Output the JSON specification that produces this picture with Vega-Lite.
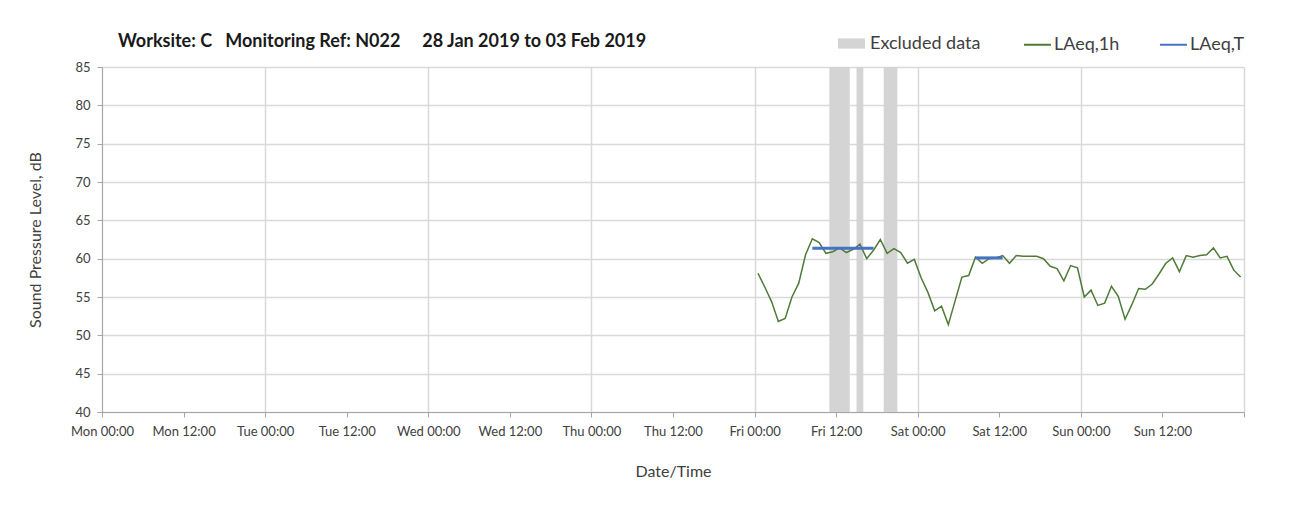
{
  "autosize": {"type": "none"},
  "padding": {"left": 102, "top": 67, "right": 65, "bottom": 99},
  "width": 1142,
  "height": 345,
  "background": "white",
  "config": {
    "view": {"stroke": null},
    "axis": {
      "labelFont": "Lato", "labelFontSize": 13, "labelColor": "#404040",
      "titleFont": "Lato", "titleFontSize": 16, "titleFontWeight": "normal", "titleColor": "#404040",
      "domainColor": "#a6a6a6", "tickColor": "#a6a6a6", "tickSize": 5,
      "gridColor": "#d9d9d9", "gridWidth": 1.5
    },
    "legend": {"labelFont": "Lato", "labelFontSize": 18, "labelColor": "#404040"}
  },
  "title": {
    "text": "Worksite: C\u00a0\u00a0\u00a0Monitoring Ref: N022\u00a0\u00a0\u00a0\u00a0\u00a028 Jan 2019 to 03 Feb 2019",
    "anchor": "start", "frame": "group", "dx": 16, "offset": 0, "baseline": "bottom", "dy": 39,
    "font": "Lato", "fontSize": 18, "fontWeight": "bold", "color": "#1a1a1a"
  },
  "layer": [
    {
      "data": {"values": [
        {"start": "2019-02-01T11:00:00Z", "end": "2019-02-01T14:00:00Z", "label": "Excluded data"},
        {"start": "2019-02-01T15:00:00Z", "end": "2019-02-01T16:00:00Z", "label": "Excluded data"},
        {"start": "2019-02-01T19:00:00Z", "end": "2019-02-01T21:00:00Z", "label": "Excluded data"}
      ]},
      "mark": {"type": "rect"},
      "encoding": {
        "x": {
          "field": "start", "type": "temporal",
          "scale": {"type": "utc", "domain": [1548633600000, 1549238400000]},
          "axis": {
            "title": "Date/Time", "titlePadding": 25,
            "values": [1548633600000, 1548676800000, 1548720000000, 1548763200000, 1548806400000, 1548849600000, 1548892800000, 1548936000000, 1548979200000, 1549022400000, 1549065600000, 1549108800000, 1549152000000, 1549195200000, 1549238400000],
            "tickCount": 40,
            "format": "%a %H:%M",
            "labelExpr": "datum.value >= 1549238400000 ? '' : datum.label",
            "labelPadding": 8, "labelAngle": 0, "labelOverlap": false, "labelFlush": false,
            "grid": true,
            "gridOpacity": {"condition": {"test": "utchours(datum.value) == 0", "value": 1}, "value": 0}
          }
        },
        "x2": {"field": "end"},
        "fill": {
          "field": "label", "type": "nominal",
          "scale": {"domain": ["Excluded data"], "range": ["#d4d4d4"]},
          "legend": {
            "orient": "none", "legendX": 736, "legendY": -37, "title": null,
            "symbolType": "M-1,-0.38H1V0.38H-1Z", "symbolSize": 729, "symbolStrokeWidth": 0,
            "labelOffset": 5
          }
        }
      }
    },
    {
      "data": {"values": [
        {"t": "2019-02-01T00:30:00Z", "db": 58.1, "series": "LAeq,1h"},
        {"t": "2019-02-01T01:30:00Z", "db": 56.3, "series": "LAeq,1h"},
        {"t": "2019-02-01T02:30:00Z", "db": 54.4, "series": "LAeq,1h"},
        {"t": "2019-02-01T03:30:00Z", "db": 51.8, "series": "LAeq,1h"},
        {"t": "2019-02-01T04:30:00Z", "db": 52.2, "series": "LAeq,1h"},
        {"t": "2019-02-01T05:30:00Z", "db": 55.0, "series": "LAeq,1h"},
        {"t": "2019-02-01T06:30:00Z", "db": 56.8, "series": "LAeq,1h"},
        {"t": "2019-02-01T07:30:00Z", "db": 60.5, "series": "LAeq,1h"},
        {"t": "2019-02-01T08:30:00Z", "db": 62.6, "series": "LAeq,1h"},
        {"t": "2019-02-01T09:30:00Z", "db": 62.1, "series": "LAeq,1h"},
        {"t": "2019-02-01T10:30:00Z", "db": 60.7, "series": "LAeq,1h"},
        {"t": "2019-02-01T11:30:00Z", "db": 60.9, "series": "LAeq,1h"},
        {"t": "2019-02-01T12:30:00Z", "db": 61.4, "series": "LAeq,1h"},
        {"t": "2019-02-01T13:30:00Z", "db": 60.8, "series": "LAeq,1h"},
        {"t": "2019-02-01T14:30:00Z", "db": 61.2, "series": "LAeq,1h"},
        {"t": "2019-02-01T15:30:00Z", "db": 61.9, "series": "LAeq,1h"},
        {"t": "2019-02-01T16:30:00Z", "db": 60.0, "series": "LAeq,1h"},
        {"t": "2019-02-01T17:30:00Z", "db": 61.1, "series": "LAeq,1h"},
        {"t": "2019-02-01T18:30:00Z", "db": 62.5, "series": "LAeq,1h"},
        {"t": "2019-02-01T19:30:00Z", "db": 60.7, "series": "LAeq,1h"},
        {"t": "2019-02-01T20:30:00Z", "db": 61.3, "series": "LAeq,1h"},
        {"t": "2019-02-01T21:30:00Z", "db": 60.8, "series": "LAeq,1h"},
        {"t": "2019-02-01T22:30:00Z", "db": 59.4, "series": "LAeq,1h"},
        {"t": "2019-02-01T23:30:00Z", "db": 59.9, "series": "LAeq,1h"},
        {"t": "2019-02-02T00:30:00Z", "db": 57.5, "series": "LAeq,1h"},
        {"t": "2019-02-02T01:30:00Z", "db": 55.6, "series": "LAeq,1h"},
        {"t": "2019-02-02T02:30:00Z", "db": 53.2, "series": "LAeq,1h"},
        {"t": "2019-02-02T03:30:00Z", "db": 53.8, "series": "LAeq,1h"},
        {"t": "2019-02-02T04:30:00Z", "db": 51.4, "series": "LAeq,1h"},
        {"t": "2019-02-02T05:30:00Z", "db": 54.5, "series": "LAeq,1h"},
        {"t": "2019-02-02T06:30:00Z", "db": 57.6, "series": "LAeq,1h"},
        {"t": "2019-02-02T07:30:00Z", "db": 57.8, "series": "LAeq,1h"},
        {"t": "2019-02-02T08:30:00Z", "db": 60.2, "series": "LAeq,1h"},
        {"t": "2019-02-02T09:30:00Z", "db": 59.4, "series": "LAeq,1h"},
        {"t": "2019-02-02T10:30:00Z", "db": 60.0, "series": "LAeq,1h"},
        {"t": "2019-02-02T11:30:00Z", "db": 60.1, "series": "LAeq,1h"},
        {"t": "2019-02-02T12:30:00Z", "db": 60.4, "series": "LAeq,1h"},
        {"t": "2019-02-02T13:30:00Z", "db": 59.4, "series": "LAeq,1h"},
        {"t": "2019-02-02T14:30:00Z", "db": 60.4, "series": "LAeq,1h"},
        {"t": "2019-02-02T15:30:00Z", "db": 60.3, "series": "LAeq,1h"},
        {"t": "2019-02-02T16:30:00Z", "db": 60.3, "series": "LAeq,1h"},
        {"t": "2019-02-02T17:30:00Z", "db": 60.3, "series": "LAeq,1h"},
        {"t": "2019-02-02T18:30:00Z", "db": 60.0, "series": "LAeq,1h"},
        {"t": "2019-02-02T19:30:00Z", "db": 59.0, "series": "LAeq,1h"},
        {"t": "2019-02-02T20:30:00Z", "db": 58.7, "series": "LAeq,1h"},
        {"t": "2019-02-02T21:30:00Z", "db": 57.1, "series": "LAeq,1h"},
        {"t": "2019-02-02T22:30:00Z", "db": 59.1, "series": "LAeq,1h"},
        {"t": "2019-02-02T23:30:00Z", "db": 58.8, "series": "LAeq,1h"},
        {"t": "2019-02-03T00:30:00Z", "db": 55.0, "series": "LAeq,1h"},
        {"t": "2019-02-03T01:30:00Z", "db": 55.9, "series": "LAeq,1h"},
        {"t": "2019-02-03T02:30:00Z", "db": 53.9, "series": "LAeq,1h"},
        {"t": "2019-02-03T03:30:00Z", "db": 54.2, "series": "LAeq,1h"},
        {"t": "2019-02-03T04:30:00Z", "db": 56.4, "series": "LAeq,1h"},
        {"t": "2019-02-03T05:30:00Z", "db": 55.1, "series": "LAeq,1h"},
        {"t": "2019-02-03T06:30:00Z", "db": 52.1, "series": "LAeq,1h"},
        {"t": "2019-02-03T07:30:00Z", "db": 54.0, "series": "LAeq,1h"},
        {"t": "2019-02-03T08:30:00Z", "db": 56.1, "series": "LAeq,1h"},
        {"t": "2019-02-03T09:30:00Z", "db": 56.0, "series": "LAeq,1h"},
        {"t": "2019-02-03T10:30:00Z", "db": 56.7, "series": "LAeq,1h"},
        {"t": "2019-02-03T11:30:00Z", "db": 58.0, "series": "LAeq,1h"},
        {"t": "2019-02-03T12:30:00Z", "db": 59.4, "series": "LAeq,1h"},
        {"t": "2019-02-03T13:30:00Z", "db": 60.1, "series": "LAeq,1h"},
        {"t": "2019-02-03T14:30:00Z", "db": 58.3, "series": "LAeq,1h"},
        {"t": "2019-02-03T15:30:00Z", "db": 60.4, "series": "LAeq,1h"},
        {"t": "2019-02-03T16:30:00Z", "db": 60.2, "series": "LAeq,1h"},
        {"t": "2019-02-03T17:30:00Z", "db": 60.4, "series": "LAeq,1h"},
        {"t": "2019-02-03T18:30:00Z", "db": 60.5, "series": "LAeq,1h"},
        {"t": "2019-02-03T19:30:00Z", "db": 61.4, "series": "LAeq,1h"},
        {"t": "2019-02-03T20:30:00Z", "db": 60.1, "series": "LAeq,1h"},
        {"t": "2019-02-03T21:30:00Z", "db": 60.3, "series": "LAeq,1h"},
        {"t": "2019-02-03T22:30:00Z", "db": 58.5, "series": "LAeq,1h"},
        {"t": "2019-02-03T23:30:00Z", "db": 57.6, "series": "LAeq,1h"}
      ]},
      "mark": {"type": "line", "strokeWidth": 1.5},
      "encoding": {
        "x": {"field": "t", "type": "temporal", "scale": {"type": "utc"}},
        "y": {
          "field": "db", "type": "quantitative",
          "scale": {"domain": [40, 85], "nice": false, "zero": false},
          "axis": {
            "title": "Sound Pressure Level, dB", "titlePadding": 31,
            "values": [40, 45, 50, 55, 60, 65, 70, 75, 80, 85], "tickCount": 12,
            "labelPadding": 7, "grid": true
          }
        },
        "stroke": {
          "field": "series", "type": "nominal",
          "scale": {"domain": ["LAeq,1h", "LAeq,T"], "range": ["#4f7a37", "#4472c4"]},
          "legend": {
            "orient": "none", "legendX": 921, "legendY": -37, "title": null, "direction": "horizontal",
            "symbolType": "stroke", "symbolSize": 729, "symbolStrokeWidth": 2,
            "columnPadding": 36, "labelOffset": 2
          }
        }
      }
    },
    {
      "data": {"values": [
        {"start": "2019-02-01T08:30:00Z", "end": "2019-02-01T17:30:00Z", "db": 61.35, "series": "LAeq,T"},
        {"start": "2019-02-02T08:30:00Z", "end": "2019-02-02T12:30:00Z", "db": 60.1, "series": "LAeq,T"}
      ]},
      "mark": {"type": "rule", "strokeWidth": 3},
      "encoding": {
        "x": {"field": "start", "type": "temporal", "scale": {"type": "utc"}},
        "x2": {"field": "end"},
        "y": {
          "field": "db", "type": "quantitative",
          "axis": {
            "title": "Sound Pressure Level, dB", "titlePadding": 31,
            "values": [40, 45, 50, 55, 60, 65, 70, 75, 80, 85], "tickCount": 12,
            "labelPadding": 7, "grid": true
          }
        },
        "stroke": {"field": "series", "type": "nominal"}
      }
    }
  ]
}
